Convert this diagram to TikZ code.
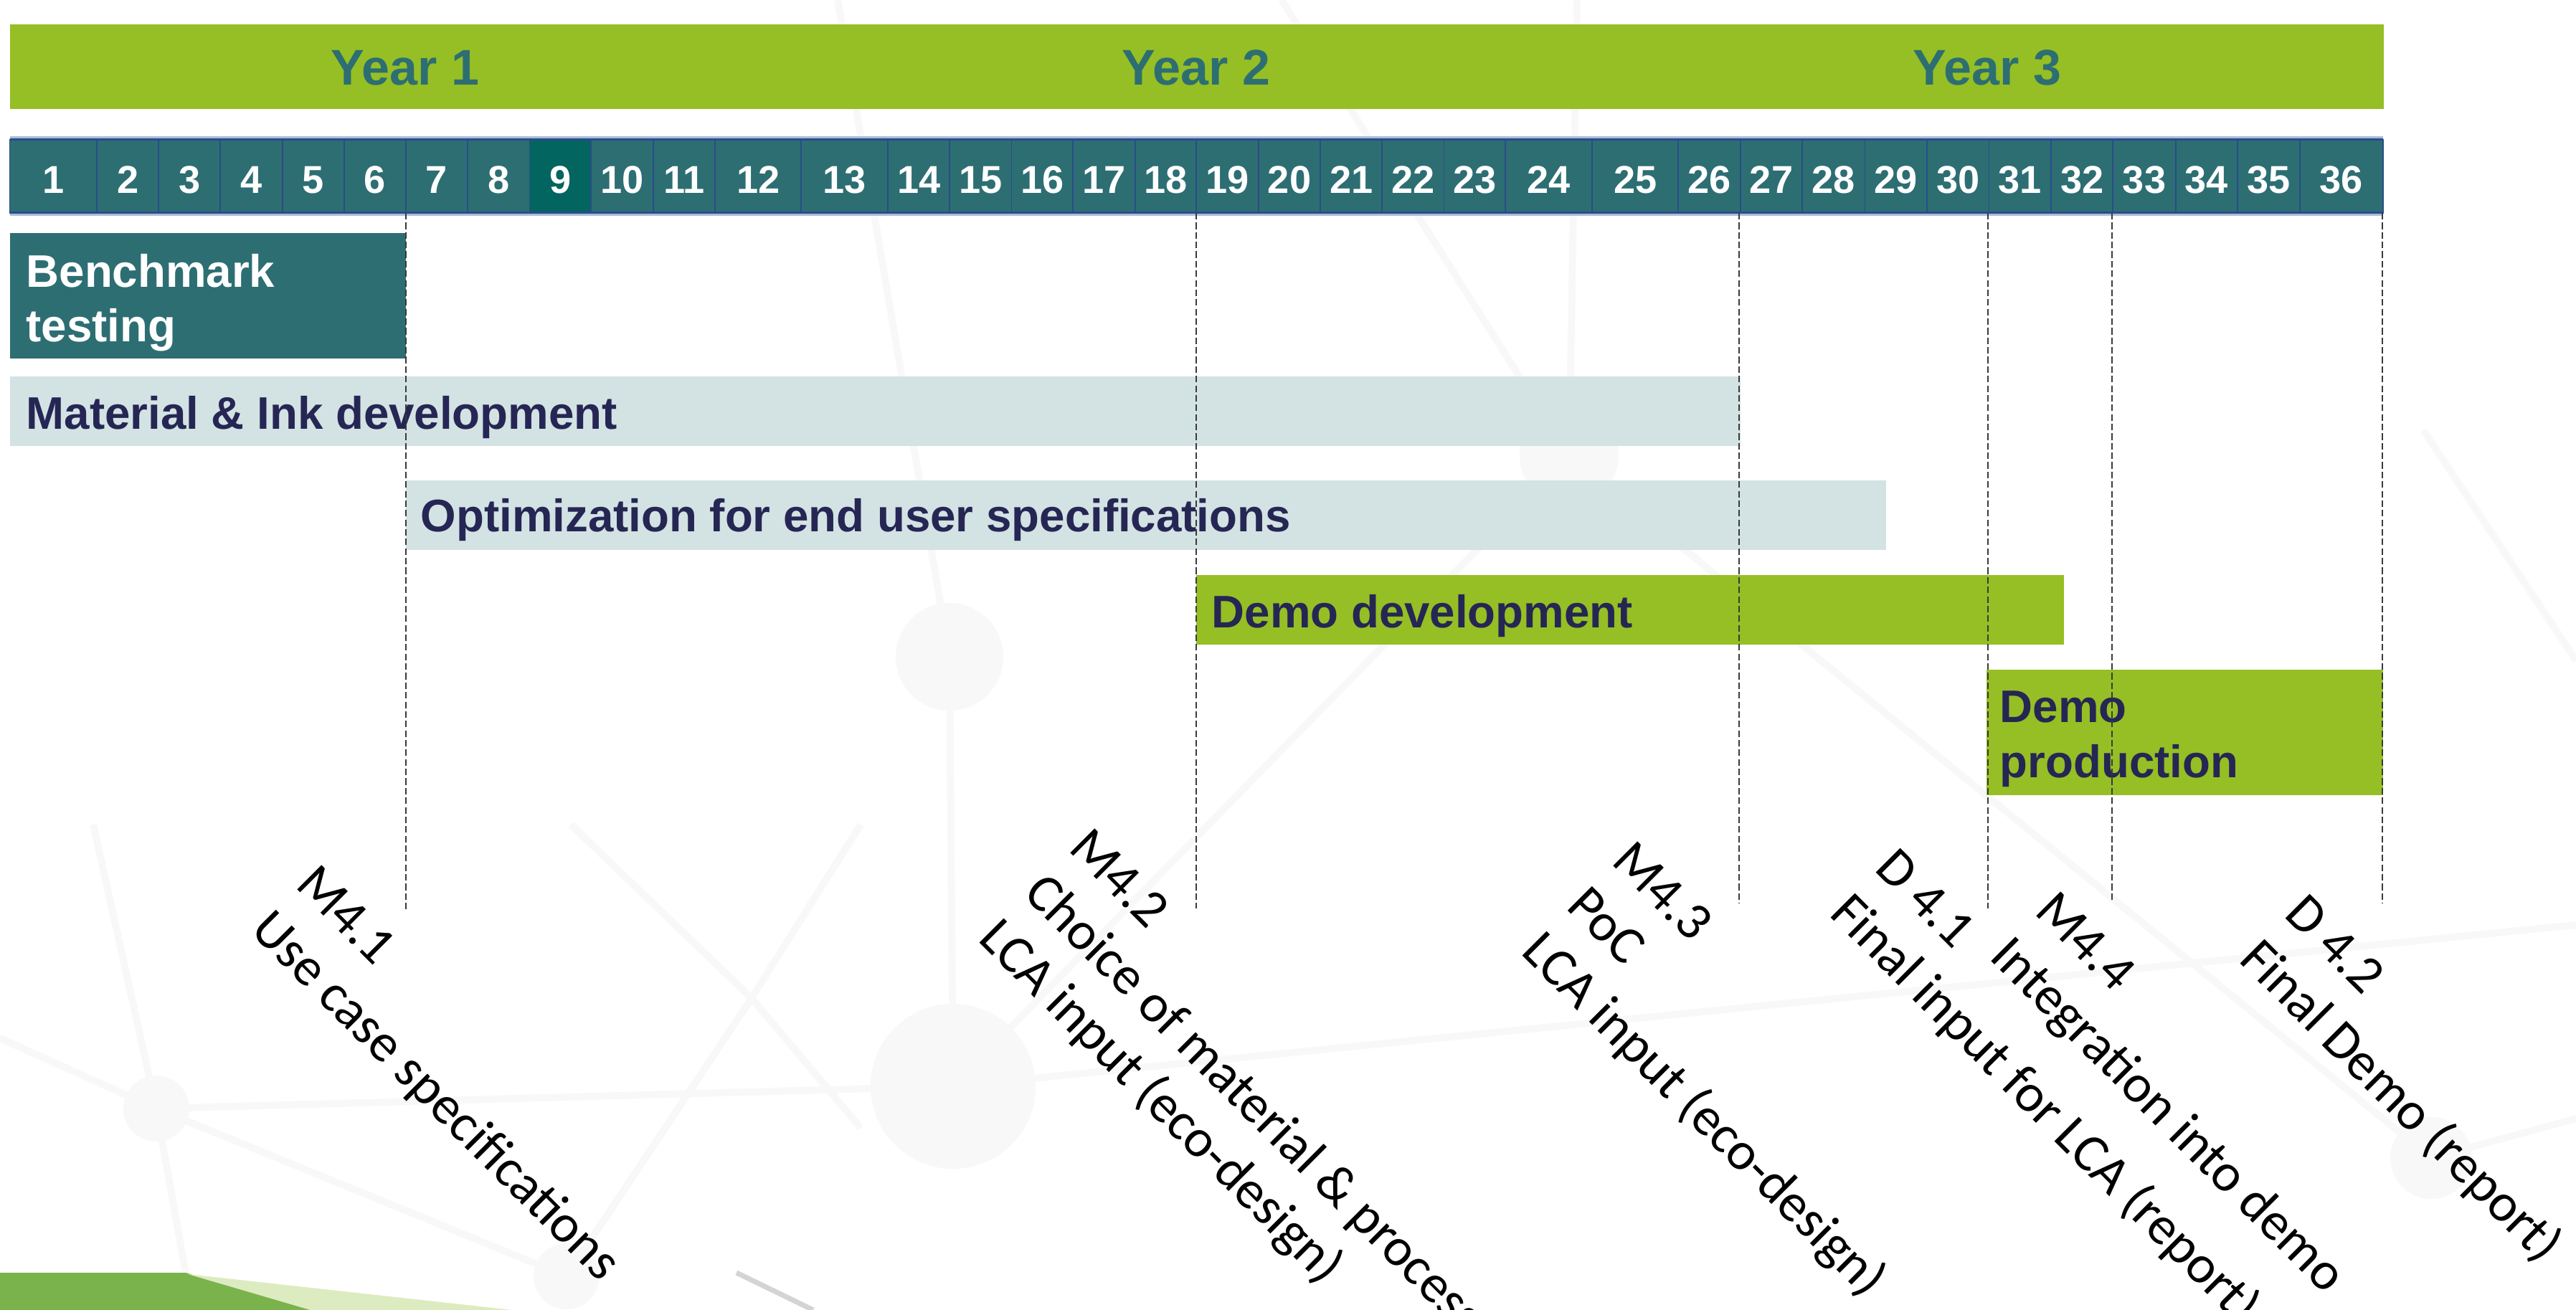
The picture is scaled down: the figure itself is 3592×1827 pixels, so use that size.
\documentclass[tikz,border=0pt]{standalone}
\usepackage{fontspec}
\setmainfont{Liberation Sans}
\newfontfamily\calfont{Carlito}

\definecolor{yeargreen}{HTML}{95BF24}
\definecolor{mteal}{HTML}{2D6E73}
\definecolor{mdark}{HTML}{03655F}
\definecolor{mline}{HTML}{2A4C8A}
\definecolor{mlight}{HTML}{A9BCD9}
\definecolor{lightbar}{HTML}{D3E2E3}
\definecolor{navytext}{HTML}{262654}
\definecolor{netgray}{HTML}{F8F8F8}
\definecolor{cornerdark}{HTML}{7AB24C}
\definecolor{cornerlight}{HTML}{DDEBC0}
\definecolor{cornergray}{HTML}{D4D4D4}
\definecolor{dashgray}{HTML}{3A3A3A}

\begin{document}
\begin{tikzpicture}[x=0.01cm, y=-0.01cm,
  taskbox/.style={anchor=north west, inner sep=0pt, outer sep=0pt, draw=none},
  bartext/.style={anchor=base west, inner sep=0pt,
    font=\fontsize{18.1pt}{21.6pt}\selectfont\bfseries},
  yeartext/.style={anchor=base, inner sep=0pt, text=mteal,
    font=\fontsize{19.9pt}{23pt}\selectfont\bfseries},
  monthnum/.style={anchor=base, inner sep=0pt, text=white,
    font=\fontsize{15.4pt}{18pt}\selectfont\bfseries},
  msline/.style={anchor=base west, inner sep=0pt, text=black,
    font=\calfont\fontsize{21.3pt}{25pt}\selectfont},
  guide/.style={draw=dashgray, line width=0.55pt, dash pattern=on 2.6pt off 1.2pt},
  netline/.style={draw=netgray, line width=2.8pt},
]
\useasboundingbox (0,0) rectangle (3592,1827);
\fill[white] (0,0) rectangle (3592,1827);

% faint network pattern in the background
\path[netline] (1168,0) -- (1324,916) -- (1329,1515);
\path[netline] (2199,0) -- (2188,635);
\path[netline] (1787,0) -- (2188,635);
\path[netline] (2188,635) -- (1329,1515);
\path[netline] (2188,635) -- (3390,1615);
\path[netline] (1329,1515) -- (3592,1290);
\path[netline] (0,1448) -- (218,1546) -- (790,1780);
\path[netline] (130,1150) -- (218,1546) -- (268,1827);
\path[netline] (218,1546) -- (1329,1515);
\path[netline] (3390,1615) -- (3592,1560);
\path[netline] (3379,600) -- (3592,921);
\path[netline] (796,1150) -- (1048,1392) -- (1200,1573);
\path[netline] (1200,1150) -- (1048,1392) -- (790,1780);
\fill[netgray] (1324,916) circle[radius=0.75cm];
\fill[netgray] (2188,635) circle[radius=0.69cm];
\fill[netgray] (1329,1515) circle[radius=1.15cm];
\fill[netgray] (218,1546) circle[radius=0.46cm];
\fill[netgray] (790,1780) circle[radius=0.46cm];
\fill[netgray] (3390,1615) circle[radius=0.57cm];

% footer corner shapes
\fill[cornerdark] (0,1775) -- (259,1775) -- (433,1827) -- (0,1827) -- cycle;
\fill[cornerlight] (262,1777) -- (714,1827) -- (433,1827) -- cycle;
\draw[cornergray, line width=2pt] (1027,1775) -- (1134,1827);

% year band
\node[taskbox, fill=yeargreen, minimum width=33.08cm, minimum height=1.18cm] (years) at (14,34) {};
\node[yeartext] (y1) at (565,118.3) {Year 1};
\node[yeartext] (y2) at (1668,118.3) {Year 2};
\node[yeartext] (y3) at (2771,118.3) {Year 3};

% month band
\draw[mlight, line width=0.6pt] (13.5,191.5) -- (3323,191.5);
\draw[mlight, line width=0.6pt] (13.5,299.5) -- (3323,299.5);
\foreach \xa/\xb/\n in {13.5/135/1, 135/221.2/2, 221.2/307/3, 307/394/4, 394/480/5,
  480/566/6, 566/652/7, 652/738.5/8, 738.5/824.2/9, 824.2/910.7/10, 910.7/997.2/11,
  997.2/1117.3/12, 1117.3/1238.3/13, 1238.3/1324/14, 1324/1410.5/15, 1410.5/1496.2/16,
  1496.2/1582.6/17, 1582.6/1668.4/18, 1668.4/1754.8/19, 1754.8/1841.3/20, 1841.3/1927/21,
  1927/2013.5/22, 2013.5/2099.2/23, 2099.2/2220.1/24, 2220.1/2340.3/25, 2340.3/2426.8/26,
  2426.8/2513.3/27, 2513.3/2600.5/28, 2600.5/2687/29, 2687/2773.5/30, 2773.5/2860/31,
  2860/2946.4/32, 2946.4/3033.7/33, 3033.7/3120.1/34, 3120.1/3206.6/35, 3206.6/3323/36}
{
  \ifnum\n=9 \def\cellcol{mdark}\else\def\cellcol{mteal}\fi
  \path[fill=\cellcol, draw=mline, line width=0.55pt] (\xa,194.7) rectangle (\xb,296.7);
  \node[monthnum] (m\n) at ({(\xa+\xb)/2},269.3) {\n};
}
\draw[mline, line width=0.9pt] (13.5,194.7) -- (3323,194.7);
\draw[mline, line width=0.9pt] (13.5,296.7) -- (3323,296.7);

% task bars
\node[taskbox, fill=mteal, minimum width=5.52cm, minimum height=1.75cm] (bench) at (14,325) {};
\node[taskbox, fill=lightbar, minimum width=24.12cm, minimum height=0.97cm] (mat) at (14,525) {};
\node[taskbox, fill=lightbar, minimum width=20.63cm, minimum height=0.97cm] (opt) at (566,670) {};
\node[taskbox, fill=yeargreen, minimum width=12.09cm, minimum height=0.97cm] (dev) at (1668,802) {};
\node[taskbox, fill=yeargreen, minimum width=5.53cm, minimum height=1.75cm] (prod) at (2770,934) {};

\node[bartext, text=white] (bench1) at (36,400) {Benchmark};
\node[bartext, text=white] (bench2) at (36,476) {testing};
\node[bartext, text=navytext] (matt) at (36,598.3) {Material \& Ink development};
\node[bartext, text=navytext] (optt) at (586,741.5) {Optimization for end user specifications};
\node[bartext, text=navytext] (devt) at (1689,875) {Demo development};
\node[bartext, text=navytext] (prod1) at (2788,1007) {Demo};
\node[bartext, text=navytext] (prod2) at (2788,1084.6) {production};

% milestone guide lines
\foreach \gx/\gy/\k in {566/1269/1, 1668/1267/2, 2425/1260/3, 2772/1267/4, 2945/1258/5, 3322/1260/6}
{
  \coordinate (gt\k) at (\gx,297);
  \coordinate (gb\k) at (\gx,\gy);
  \draw[guide] (gt\k) -- (gb\k);
}

% milestone and deliverable labels
\begin{scope}[shift={(410,1236)}, rotate=-45, transform shape]
  \node[msline] (ms1a) at (0,0) {M4.1};
  \node[msline] (ms1b) at (0,89) {Use case specifications};
\end{scope}
\begin{scope}[shift={(1488,1185)}, rotate=-45, transform shape]
  \node[msline] (ms2a) at (0,0) {M4.2};
  \node[msline] (ms2b) at (0,89) {Choice of material \& process};
  \node[msline] (ms2c) at (0,178) {LCA input (eco-design)};
\end{scope}
\begin{scope}[shift={(2245,1203)}, rotate=-45, transform shape]
  \node[msline] (ms3a) at (0,0) {M4.3};
  \node[msline] (ms3b) at (0,89) {PoC};
  \node[msline] (ms3c) at (0,178) {LCA input (eco-design)};
\end{scope}
\begin{scope}[shift={(2612,1213)}, rotate=-45, transform shape]
  \node[msline] (dl1a) at (0,0) {D 4.1};
  \node[msline] (dl1b) at (0,89) {Final input for LCA (report)};
\end{scope}
\begin{scope}[shift={(2835,1273)}, rotate=-45, transform shape]
  \node[msline] (ms4a) at (0,0) {M4.4};
  \node[msline] (ms4b) at (0,89) {Integration into demo};
\end{scope}
\begin{scope}[shift={(3183,1277)}, rotate=-45, transform shape]
  \node[msline] (dl2a) at (0,0) {D 4.2};
  \node[msline] (dl2b) at (0,89) {Final Demo (report)};
\end{scope}
\end{tikzpicture}
\end{document}
